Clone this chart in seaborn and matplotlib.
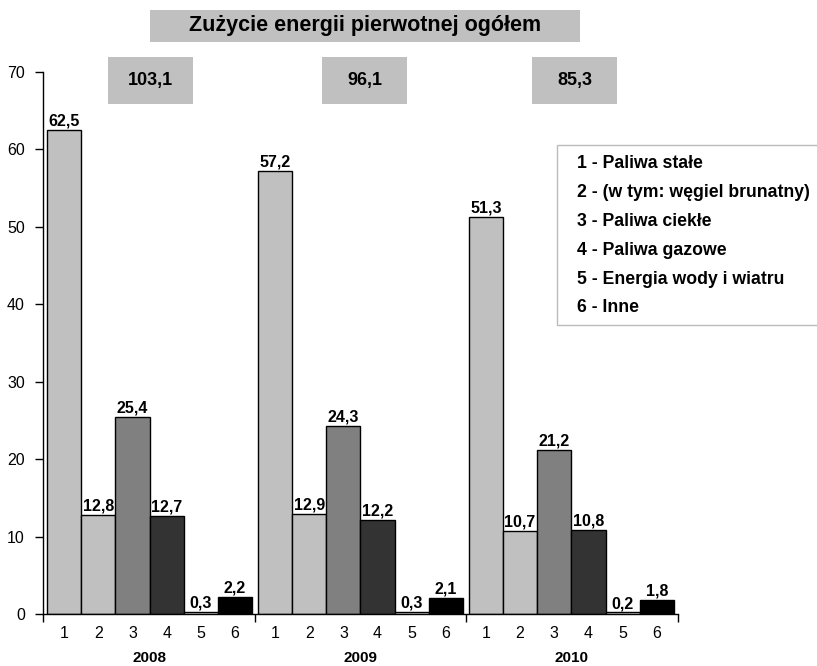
import matplotlib
matplotlib.use("Agg")
import matplotlib.pyplot as plt
from matplotlib.patches import Rectangle
from matplotlib.transforms import blended_transform_factory
import seaborn as sns
import pandas as pd

# Data
years = ["2008", "2009", "2010"]
categories = ["1", "2", "3", "4", "5", "6"]
values_2008 = [62.5, 12.8, 25.4, 12.7, 0.3, 2.2]
values_2009 = [57.2, 12.9, 24.3, 12.2, 0.3, 2.1]
values_2010 = [51.3, 10.7, 21.2, 10.8, 0.2, 1.8]
totals = [103.1, 96.1, 85.3]
legend_lines = [
    "1 - Paliwa stałe",
    "2 - (w tym: węgiel brunatny)",
    "3 - Paliwa ciekłe",
    "4 - Paliwa gazowe",
    "5 - Energia wody i wiatru",
    "6 - Inne",
]
title = "Zużycie energii pierwotnej ogółem"

bar_colors = ["#c0c0c0", "#c0c0c0", "#808080", "#333333", "#ffffff", "#000000"]
group_step = 6.17

def fmt(v):
    return f"{v:.1f}".replace(".", ",")

rows = []
for g, vals in enumerate([values_2008, values_2009, values_2010]):
    for i, (c, v) in enumerate(zip(categories, vals)):
        rows.append({"year": years[g], "cat": c, "value": v, "pos": g * group_step + i})
df = pd.DataFrame(rows)

sns.set_theme(style="white")
plt.rcParams["font.family"] = ["Liberation Sans", "DejaVu Sans"]

fig = plt.figure(figsize=(8.17, 6.66), dpi=100)
ax = fig.add_axes([43 / 817, 1 - 614 / 666, (678 - 43) / 817, (614 - 72) / 666])

sns.barplot(data=df, x="pos", y="value", hue="cat", palette=bar_colors,
            native_scale=True, width=1, dodge=False, edgecolor="black",
            linewidth=1, legend=False, ax=ax, saturation=1)

xmin = -0.62
xmax = 2 * group_step + 5.5 + 0.12
ax.set_xlim(xmin, xmax)
ax.set_ylim(0, 70)

# Value labels
for _, r in df.iterrows():
    ax.annotate(fmt(r["value"]), (r["pos"], r["value"]), xytext=(0, 1),
                textcoords="offset points", ha="center", va="bottom",
                fontsize=11.5, fontweight="bold", color="black")

# Axes styling
for s in ["top", "right"]:
    ax.spines[s].set_visible(False)
for s in ["left", "bottom"]:
    ax.spines[s].set_color("black")
    ax.spines[s].set_linewidth(1)

ax.set_yticks(range(0, 71, 10))
ax.tick_params(axis="y", direction="out", length=6, width=1, pad=7,
               labelsize=11.5, colors="black", left=True)

ax.set_xticks(df["pos"].tolist())
ax.set_xticklabels(df["cat"].tolist())
ax.tick_params(axis="x", which="major", length=0, pad=9, labelsize=11.5,
               colors="black")
bounds = [xmin, group_step - 0.585, 2 * group_step - 0.585, xmax]
ax.set_xticks(bounds, minor=True)
ax.tick_params(axis="x", which="minor", direction="out", length=6, width=1,
               colors="black", bottom=True)
ax.set_xlabel("")
ax.set_ylabel("")

trans = blended_transform_factory(ax.transData, ax.transAxes)
for g, y in enumerate(years):
    ax.text(g * group_step + 2.5, -0.082, y, transform=trans, ha="center",
            va="center", fontsize=11, fontweight="bold", color="black")

# Title box
fig.patches.append(Rectangle((150 / 817, 1 - 42 / 666), 430 / 817, 32 / 666,
                             transform=fig.transFigure, facecolor="#c0c0c0",
                             edgecolor="none"))
fig.text(365 / 817, 1 - 26 / 666, title, ha="center", va="center",
         fontsize=15.5, fontweight="bold", color="black")

# Total boxes
for x0, t in zip([108, 322, 532], totals):
    fig.patches.append(Rectangle((x0 / 817, 1 - 104 / 666), 85 / 817, 47 / 666,
                                 transform=fig.transFigure, facecolor="#c0c0c0",
                                 edgecolor="none"))
    fig.text((x0 + 42.5) / 817, 1 - 80 / 666, fmt(t), ha="center", va="center",
             fontsize=13, fontweight="bold", color="black")

# Category legend box
fig.patches.append(Rectangle((557 / 817, 1 - 325 / 666), 270 / 817, 180 / 666,
                             transform=fig.transFigure, facecolor="white",
                             edgecolor="#bbbbbb", linewidth=1))
for k, line in enumerate(legend_lines):
    fig.text(577 / 817, 1 - (164 + k * 28.8) / 666, line, ha="left",
             va="center", fontsize=12.7, fontweight="bold", color="black")

fig.savefig("out.png", dpi=100)
